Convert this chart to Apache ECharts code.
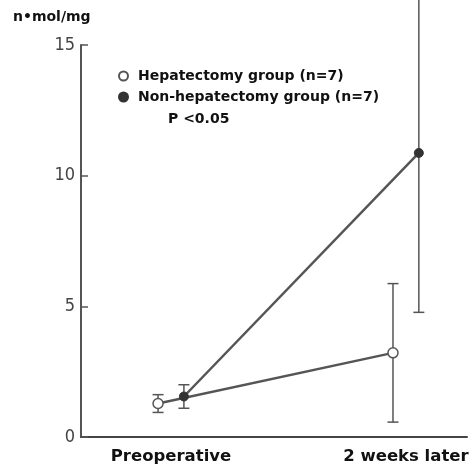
<!DOCTYPE html>
<html>
<head>
<meta charset="utf-8">
<script src="https://cdn.jsdelivr.net/npm/echarts@6/dist/echarts.min.js"></script>
<style>
  html, body { margin: 0; padding: 0; background: #fff; }
  #main { width: 476px; height: 469px; }
</style>
</head>
<body>
<div id="main"></div>
<script>
// 数据
var categories = ['Preoperative', '2 weeks later'];
var seriesNames = ['Hepatectomy group (n=7)', 'Non-hepatectomy group (n=7)'];
var hepMean = [1.28, 3.22];
var hepSD = [0.34, 2.65];
var nonMean = [1.55, 10.87];
var nonSD = [0.45, 6.1];
var yTicks = [0, 5, 10, 15];

var offset = 0.055; // 两组左右错开
var lineColor = '#555';

function points(means, shift) {
    return means.map(function (m, i) { return [i + shift, m]; });
}
function bars(means, sds, shift) {
    return means.map(function (m, i) { return [i + shift, m - sds[i], m + sds[i]]; });
}

// 误差线
function errorBar(params, api) {
    var x = api.value(0);
    var lo = api.coord([x, api.value(1)]);
    var hi = api.coord([x, api.value(2)]);
    var w = 5.5;
    var style = { stroke: lineColor, lineWidth: 1.5 };
    return {
        type: 'group',
        children: [
            { type: 'line', shape: { x1: lo[0], y1: lo[1], x2: hi[0], y2: hi[1] }, style: style },
            { type: 'line', shape: { x1: lo[0] - w, y1: lo[1], x2: lo[0] + w, y2: lo[1] }, style: style },
            { type: 'line', shape: { x1: hi[0] - w, y1: hi[1], x2: hi[0] + w, y2: hi[1] }, style: style }
        ]
    };
}

var dom = echarts.init(document.getElementById('main'));

var option = {
    backgroundColor: '#fff',
    animation: false,
    textStyle: { fontFamily: 'DejaVu Sans' },
    grid: { left: 81, right: 9, top: 45, bottom: 32 },
    graphic: [
        { type: 'text', left: 13, top: 10, style: { text: 'n•mol/mg', font: 'bold 14px DejaVu Sans', fill: '#111' } },
        { type: 'text', left: 168, top: 112, style: { text: 'P <0.05', font: 'bold 14px DejaVu Sans', fill: '#111' } }
    ],
    legend: {
        orient: 'vertical',
        left: 113,
        top: 64,
        itemGap: 7,
        itemWidth: 9,
        itemHeight: 9,
        icon: 'circle',
        data: seriesNames,
        textStyle: { fontSize: 14, fontWeight: 'bold', color: '#111', padding: [0, 0, 0, 5] }
    },
    xAxis: {
        type: 'value',
        min: -0.383,
        max: 1.26,
        splitLine: { show: false },
        axisLine: { onZero: false, lineStyle: { color: '#444', width: 2 } },
        axisTick: { show: false },
        axisLabel: {
            customValues: [0, 1],
            formatter: function (v) { return categories[Math.round(v)]; },
            color: '#111',
            fontSize: 16.5,
            fontWeight: 'bold',
            margin: 11
        }
    },
    yAxis: {
        type: 'value',
        min: 0,
        max: 15,
        interval: 5,
        splitLine: { show: false },
        axisLine: { show: true, onZero: false, lineStyle: { color: '#555', width: 2 } },
        axisTick: { show: true, inside: true, length: 7, lineStyle: { color: '#555', width: 1.5 } },
        axisLabel: {
            color: '#444',
            fontSize: 18,
            fontFamily: 'Liberation Sans Narrow, DejaVu Sans Condensed',
            margin: 6,
            formatter: function (v) { return yTicks.indexOf(v) >= 0 ? String(v) : ''; }
        }
    },
    series: [
        {
            type: 'custom',
            renderItem: errorBar,
            data: bars(hepMean, hepSD, -offset),
            z: 1,
            silent: true
        },
        {
            type: 'custom',
            renderItem: errorBar,
            data: bars(nonMean, nonSD, offset),
            z: 1,
            silent: true
        },
        {
            name: seriesNames[0],
            type: 'line',
            data: points(hepMean, -offset),
            symbol: 'circle',
            symbolSize: 10,
            lineStyle: { color: lineColor, width: 2.5 },
            itemStyle: { color: '#fff', borderColor: lineColor, borderWidth: 1.5 },
            z: 3
        },
        {
            name: seriesNames[1],
            type: 'line',
            data: points(nonMean, offset),
            symbol: 'circle',
            symbolSize: 9,
            lineStyle: { color: lineColor, width: 2.5 },
            itemStyle: { color: '#333', borderColor: '#333', borderWidth: 1 },
            z: 3
        }
    ]
};

dom.setOption(option);
</script>
</body>
</html>
